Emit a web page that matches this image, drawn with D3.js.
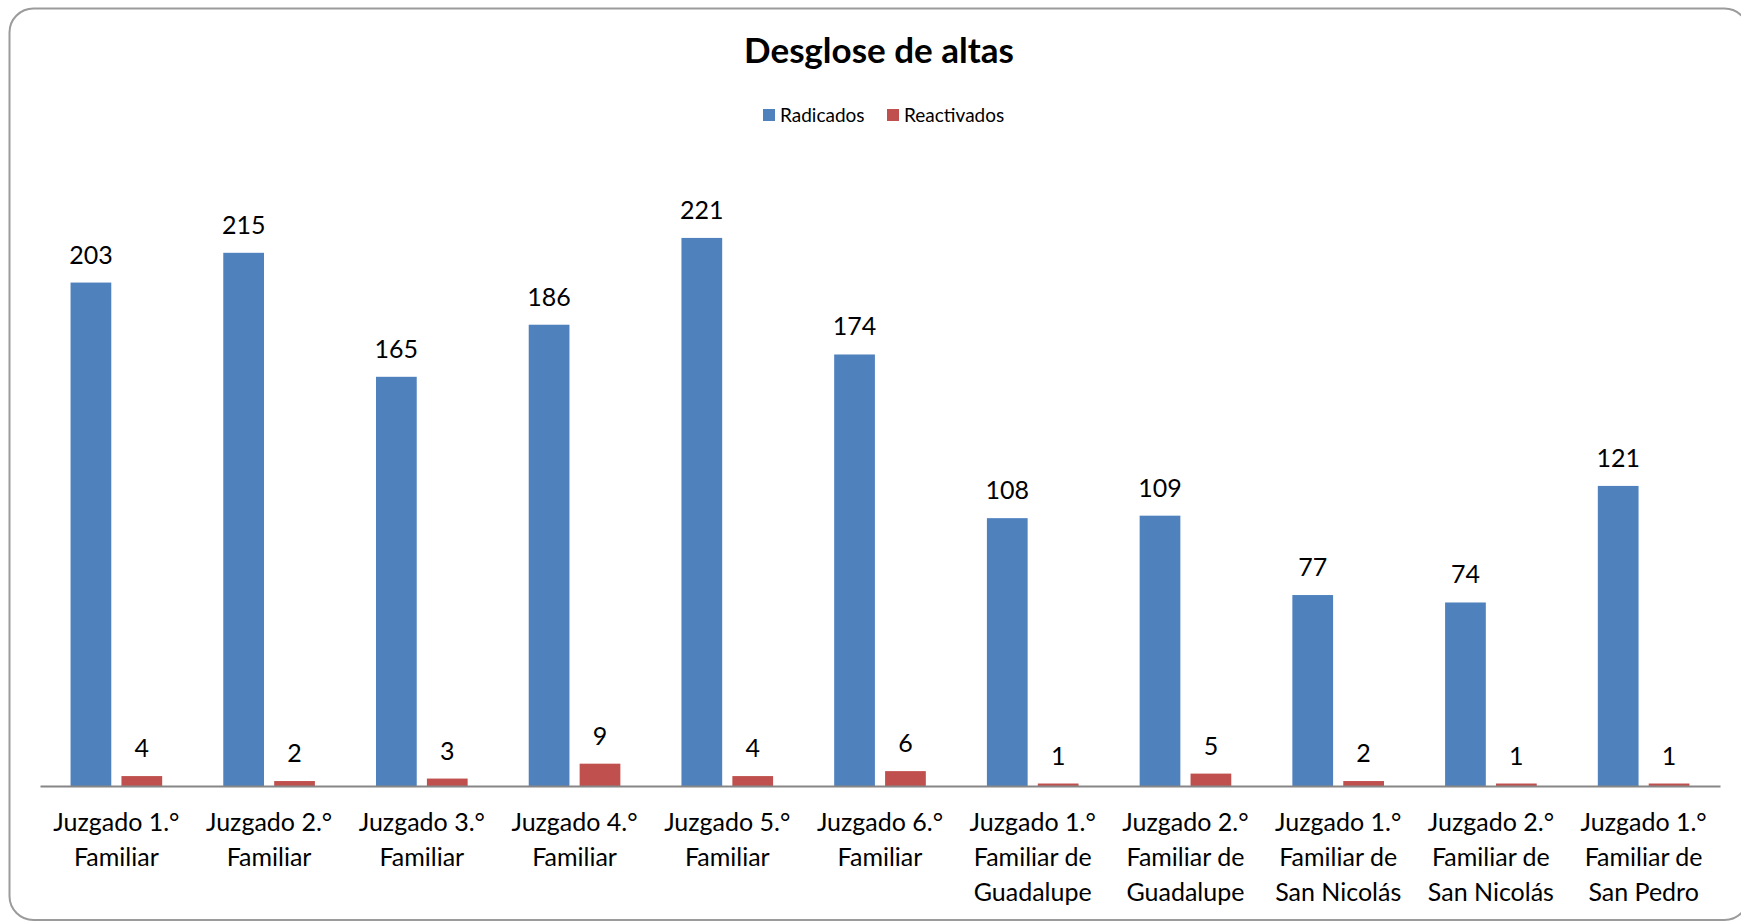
<!DOCTYPE html>
<html>
<head>
<meta charset="utf-8">
<script src="https://cdn.jsdelivr.net/npm/d3@7"></script>
<style>
  html, body { margin: 0; padding: 0; background: #ffffff; }
  svg { display: block; }
  text { font-family: Lato, "Open Sans", sans-serif; fill: #000; }
</style>
</head>
<body>
<svg id="chart" width="1741" height="922"></svg>
<script>
const title = "Desglose de altas";
const seriesNames = ["Radicados", "Reactivados"];
const categories = [
  "Juzgado 1.°\nFamiliar",
  "Juzgado 2.°\nFamiliar",
  "Juzgado 3.°\nFamiliar",
  "Juzgado 4.°\nFamiliar",
  "Juzgado 5.°\nFamiliar",
  "Juzgado 6.°\nFamiliar",
  "Juzgado 1.°\nFamiliar de\nGuadalupe",
  "Juzgado 2.°\nFamiliar de\nGuadalupe",
  "Juzgado 1.°\nFamiliar de\nSan Nicolás",
  "Juzgado 2.°\nFamiliar de\nSan Nicolás",
  "Juzgado 1.°\nFamiliar de\nSan Pedro"
];
const radicados = [203, 215, 165, 186, 221, 174, 108, 109, 77, 74, 121];
const reactivados = [4, 2, 3, 9, 4, 6, 1, 5, 2, 1, 1];
const seriesColors = ["#4F81BD", "#C0504D"];

const svg = d3.select("#chart");

// outer frame
svg.append("rect")
  .attr("x", 9.5).attr("y", 8.5)
  .attr("width", 1739).attr("height", 911.5)
  .attr("rx", 24).attr("ry", 24)
  .attr("fill", "#fff")
  .attr("stroke", "#9b9b9b")
  .attr("stroke-width", 2);

const x0 = d3.scaleBand()
  .domain(categories)
  .range([40, 1720])
  .paddingInner(0.4)
  .paddingOuter(0.2);

const x1 = d3.scaleBand()
  .domain(seriesNames)
  .range([0, x0.bandwidth()])
  .paddingInner(0.2);

const y = d3.scaleLinear().domain([0, 250]).range([786, 166]);

const data = categories.map((c, i) => ({
  cat: c,
  values: [
    { name: seriesNames[0], value: radicados[i], color: seriesColors[0] },
    { name: seriesNames[1], value: reactivados[i], color: seriesColors[1] }
  ]
}));

const groups = svg.append("g").selectAll("g")
  .data(data)
  .join("g")
  .attr("transform", d => `translate(${x0(d.cat)},0)`);

groups.selectAll("rect")
  .data(d => d.values)
  .join("rect")
  .attr("x", d => x1(d.name))
  .attr("y", d => y(d.value))
  .attr("width", x1.bandwidth())
  .attr("height", d => y(0) - y(d.value))
  .attr("fill", d => d.color);

groups.selectAll("text.val")
  .data(d => d.values)
  .join("text")
  .attr("class", "val")
  .attr("x", d => x1(d.name) + x1.bandwidth() / 2)
  .attr("y", d => y(d.value) - 19)
  .attr("text-anchor", "middle")
  .style("font-size", "25px")
  .text(d => d.value);

// x axis
const xAxis = d3.axisBottom(x0).tickSize(0).tickFormat("");
const axisG = svg.append("g")
  .attr("transform", `translate(0,${y(0)})`)
  .call(xAxis);
axisG.select(".domain").attr("stroke", "#868686").attr("stroke-width", 2);

// category labels
const catLabels = svg.append("g").selectAll("text")
  .data(categories)
  .join("text")
  .attr("text-anchor", "middle")
  .attr("x", d => x0(d) + x0.bandwidth() / 2)
  .attr("y", 831)
  .style("font-size", "25px");
catLabels.selectAll("tspan")
  .data(d => d.split("\n"))
  .join("tspan")
  .attr("x", function () { return d3.select(this.parentNode).attr("x"); })
  .attr("dy", (d, i) => i === 0 ? 0 : 35)
  .text(d => d);

// title
svg.append("text")
  .attr("x", 879).attr("y", 63)
  .attr("text-anchor", "middle")
  .style("font-size", "35px")
  .style("font-weight", "bold")
  .text(title);

// legend
const legendPos = [763, 887];
const leg = svg.append("g").selectAll("g")
  .data(seriesNames)
  .join("g")
  .attr("transform", (d, i) => `translate(${legendPos[i]},109)`);
leg.append("rect")
  .attr("width", 12).attr("height", 12)
  .attr("fill", (d, i) => seriesColors[i]);
leg.append("text")
  .attr("x", 17).attr("y", 12.5)
  .style("font-size", "19px")
  .text(d => d);
</script>
</body>
</html>
